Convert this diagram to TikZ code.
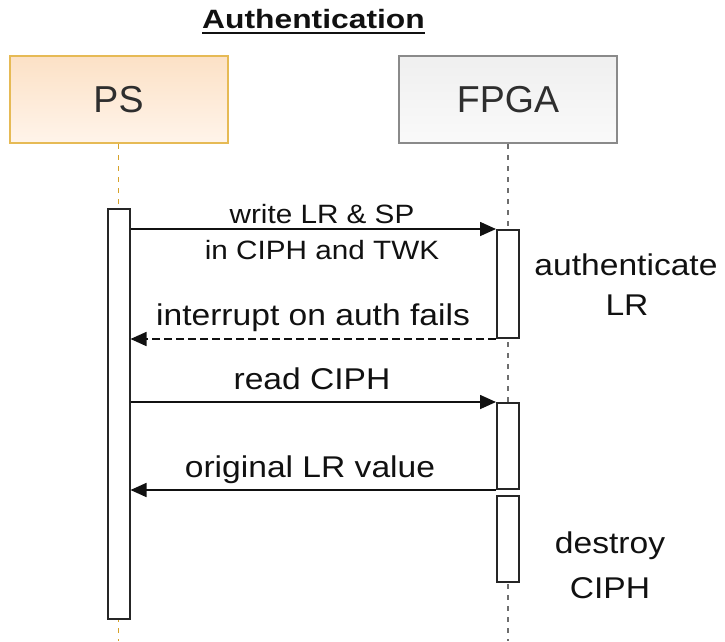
\documentclass[tikz,border=0pt]{standalone}
\usepackage{fontspec}
\setmainfont{Liberation Sans}
\newfontfamily\lblfont[FakeStretch=1.12]{Liberation Sans}
\newfontfamily\ttlfont[FakeStretch=1.2]{Liberation Sans}
\usetikzlibrary{arrows.meta}

\definecolor{psTop}{HTML}{FCE1C6}
\definecolor{psBot}{HTML}{FFF4EA}
\definecolor{psBorder}{HTML}{E6BA55}
\definecolor{psLife}{HTML}{D6A22A}
\definecolor{fpTop}{HTML}{EFEFEF}
\definecolor{fpBot}{HTML}{FAFAFA}
\definecolor{fpBorder}{HTML}{8A8A8A}
\definecolor{fpLife}{HTML}{6E6E6E}
\definecolor{headText}{HTML}{2E2E2E}
\definecolor{ink}{HTML}{111111}
\definecolor{barLine}{HTML}{262626}

\begin{document}
\begin{tikzpicture}[x=1pt,y=-1pt,
  head/.style={draw, line width=2pt, minimum width=218pt, minimum height=87pt,
    inner sep=0pt, font=\fontsize{37.5}{40}\selectfont, text=headText},
  pshead/.style={head, draw=psBorder, top color=psTop, bottom color=psBot},
  fpgahead/.style={head, draw=fpBorder, top color=fpTop, bottom color=fpBot},
  life/.style={line width=1.6pt, dash pattern=on 5pt off 6pt},
  actbar/.style={draw=barLine, fill=white, line width=2pt, minimum width=22pt,
    inner sep=0pt, anchor=north},
  msg/.style={draw=ink, line width=1.7pt, -{Triangle[length=16pt,width=14pt]}},
  reply/.style={msg, dash pattern=on 8pt off 4pt},
  lbl/.style={font=\lblfont\fontsize{30}{33}\selectfont, text=ink, anchor=base, inner sep=0pt},
  lblsmall/.style={lbl, font=\lblfont\fontsize{26.5}{30}\selectfont}
]
\useasboundingbox (0,0) rectangle (725,641);
\coordinate (bottom) at (0,641);

% title
\node[font=\ttlfont\bfseries\fontsize{26.5}{30}\selectfont, text=ink, anchor=base, inner sep=0pt]
  (title) at (313.5,28) {Authentication};
\draw[ink, line width=2pt] ([yshift=-5pt]title.base west) -- ([yshift=-5pt]title.base east);

% participants
\node[pshead] (ps) at (118.5,99.5) {PS};
\node[fpgahead] (fpga) at (508,99.5) {FPGA};

% lifelines
\draw[life, draw=psLife] (ps.south) -- (ps.south |- bottom);
\draw[life, draw=fpLife] (fpga.south) -- (fpga.south |- bottom);

% activation bars
\node[actbar, minimum height=410pt] (psbar) at (118.5,208) {};
\node[actbar, minimum height=108pt] (fbar1) at (508,229) {};
\node[actbar, minimum height=86pt] (fbar2) at (508,402) {};
\node[actbar, minimum height=86pt] (fbar3) at (508,495) {};

% messages
\draw[msg] (psbar.east |- fbar1.north) -- (fbar1.north west);
\draw[reply] (fbar1.south west) -- (psbar.east |- fbar1.south);
\draw[msg] (psbar.east |- fbar2.north) -- (fbar2.north west);
\draw[msg] (fbar2.south west) -- (psbar.east |- fbar2.south);

% message labels
\node[lblsmall] (m1a) at (322,223) {write LR \& SP};
\node[lblsmall] (m1b) at (322,259) {in CIPH and TWK};
\node[lbl] (m2) at (313,325) {interrupt on auth fails};
\node[lbl] (m3) at (312,389) {read CIPH};
\node[lbl] (m4) at (310,477) {original LR value};

% notes beside the FPGA activations
\node[lbl] (n1a) at (626,275) {authenticate};
\node[lbl] (n1b) at (627,315) {LR};
\node[lbl] (n2a) at (610,553) {destroy};
\node[lbl] (n2b) at (610,598) {CIPH};
\end{tikzpicture}
\end{document}
